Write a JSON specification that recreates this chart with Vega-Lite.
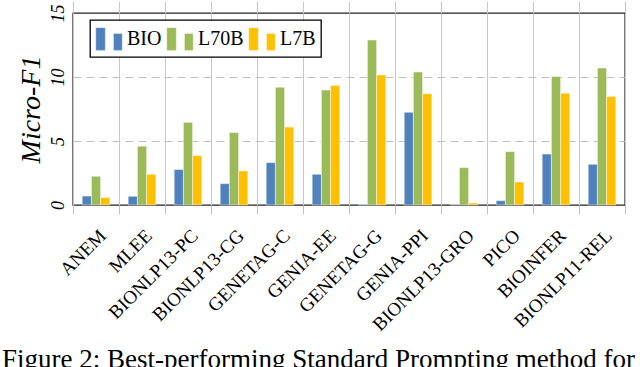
{
  "$schema": "https://vega.github.io/schema/vega-lite/v6.json",
  "width": 552,
  "height": 192,
  "padding": {"left": 2, "top": 0, "right": 0, "bottom": 0},
  "background": "white",
  "title": {
    "text": "Figure 2: Best-performing Standard Prompting method for",
    "orient": "bottom",
    "anchor": "start",
    "frame": "bounds",
    "font": "Liberation Serif",
    "fontSize": 27,
    "fontWeight": "normal",
    "color": "black",
    "dx": -15,
    "offset": 13
  },
  "config": {
    "view": {"stroke": "#222222", "strokeWidth": 1.4},
    "font": "Liberation Serif",
    "axis": {"labelFont": "Liberation Serif", "titleFont": "Liberation Serif"},
    "legend": {"labelFont": "Liberation Serif", "titleFont": "Liberation Serif"},
    "text": {"font": "Liberation Serif"}
  },
  "data": {
    "values": [
      {"dataset": "ANEM", "model": "BIO", "value": 0.70},
      {"dataset": "ANEM", "model": "L70B", "value": 2.24},
      {"dataset": "ANEM", "model": "L7B", "value": 0.58},
      {"dataset": "MLEE", "model": "BIO", "value": 0.68},
      {"dataset": "MLEE", "model": "L70B", "value": 4.59},
      {"dataset": "MLEE", "model": "L7B", "value": 2.40},
      {"dataset": "BIONLP13-PC", "model": "BIO", "value": 2.77},
      {"dataset": "BIONLP13-PC", "model": "L70B", "value": 6.46},
      {"dataset": "BIONLP13-PC", "model": "L7B", "value": 3.86},
      {"dataset": "BIONLP13-CG", "model": "BIO", "value": 1.67},
      {"dataset": "BIONLP13-CG", "model": "L70B", "value": 5.66},
      {"dataset": "BIONLP13-CG", "model": "L7B", "value": 2.66},
      {"dataset": "GENETAG-C", "model": "BIO", "value": 3.31},
      {"dataset": "GENETAG-C", "model": "L70B", "value": 9.20},
      {"dataset": "GENETAG-C", "model": "L7B", "value": 6.09},
      {"dataset": "GENIA-EE", "model": "BIO", "value": 2.40},
      {"dataset": "GENIA-EE", "model": "L70B", "value": 8.98},
      {"dataset": "GENIA-EE", "model": "L7B", "value": 9.33},
      {"dataset": "GENETAG-G", "model": "BIO", "value": 0.03},
      {"dataset": "GENETAG-G", "model": "L70B", "value": 12.89},
      {"dataset": "GENETAG-G", "model": "L7B", "value": 10.16},
      {"dataset": "GENIA-PPI", "model": "BIO", "value": 7.24},
      {"dataset": "GENIA-PPI", "model": "L70B", "value": 10.39},
      {"dataset": "GENIA-PPI", "model": "L7B", "value": 8.70},
      {"dataset": "BIONLP13-GRO", "model": "BIO", "value": 0.05},
      {"dataset": "BIONLP13-GRO", "model": "L70B", "value": 2.92},
      {"dataset": "BIONLP13-GRO", "model": "L7B", "value": 0.16},
      {"dataset": "PICO", "model": "BIO", "value": 0.34},
      {"dataset": "PICO", "model": "L70B", "value": 4.17},
      {"dataset": "PICO", "model": "L7B", "value": 1.80},
      {"dataset": "BIOINFER", "model": "BIO", "value": 3.98},
      {"dataset": "BIOINFER", "model": "L70B", "value": 10.03},
      {"dataset": "BIOINFER", "model": "L7B", "value": 8.73},
      {"dataset": "BIONLP11-REL", "model": "BIO", "value": 3.18},
      {"dataset": "BIONLP11-REL", "model": "L70B", "value": 10.70},
      {"dataset": "BIONLP11-REL", "model": "L7B", "value": 8.47}
    ]
  },
  "layer": [
    {
      "mark": {"type": "bar", "stroke": "white", "strokeOpacity": 0.45, "strokeWidth": 1},
      "encoding": {
        "x": {
          "field": "dataset",
          "type": "nominal",
          "sort": null,
          "scale": {"paddingInner": 0, "paddingOuter": 0},
          "axis": {
            "orient": "bottom",
            "title": null,
            "tickBand": "extent",
            "grid": true,
            "gridColor": "#c8c8c8",
            "gridWidth": 1,
            "ticks": true,
            "tickSize": 9,
            "tickColor": "#c0c0c0",
            "domain": false,
            "labelAngle": -45,
            "labelFont": "Liberation Serif",
            "labelFontSize": 19,
            "labelColor": "black",
            "labelPadding": 12
          }
        },
        "xOffset": {
          "field": "model",
          "type": "nominal",
          "sort": ["BIO", "L70B", "L7B"],
          "scale": {"paddingInner": 0, "paddingOuter": 1.05}
        },
        "y": {
          "field": "value",
          "type": "quantitative",
          "scale": {"domain": [0, 15], "nice": false},
          "axis": {
            "title": "Micro-F1",
            "titleFont": "Liberation Serif",
            "titleFontStyle": "italic",
            "titleFontWeight": "normal",
            "titleFontSize": 28,
            "titleColor": "black",
            "titlePadding": 4,
            "values": [0, 5, 10, 15],
            "grid": true,
            "gridDash": [8, 5],
            "gridColor": "#c0c0c0",
            "gridOpacity": {"condition": {"test": "datum.value === 0 || datum.value === 15", "value": 0}, "value": 1},
            "domain": false,
            "ticks": false,
            "labelAngle": -90,
            "labelFont": "Liberation Serif",
            "labelFontStyle": "italic",
            "labelFontSize": 18,
            "labelColor": "black",
            "labelPadding": 6
          }
        },
        "color": {
          "field": "model",
          "type": "nominal",
          "sort": ["BIO", "L70B", "L7B"],
          "scale": {"domain": ["BIO", "L70B", "L7B"], "range": ["#4f81bd", "#9bbb59", "#ffc000"]},
          "legend": {
            "title": null,
            "orient": "none",
            "legendX": 17,
            "legendY": 7,
            "direction": "horizontal",
            "columns": 3,
            "strokeColor": "black",
            "fillColor": "white",
            "padding": 5,
            "symbolType": "M-1,-0.86H-0.28V0.86H-1Z M0.34,-0.42H1V0.86H0.34Z",
            "symbolSize": 700,
            "symbolStrokeColor": "white",
            "symbolStrokeWidth": 0.8,
            "labelFont": "Liberation Serif",
            "labelFontSize": 20,
            "labelColor": "black",
            "labelOffset": 4,
            "columnPadding": 3,
            "encode": {
              "legend": {"update": {"strokeWidth": {"value": 1.3}}},
              "symbols": {"update": {"strokeOpacity": {"value": 0.45}}}
            }
          }
        }
      }
    },
    {
      "mark": {"type": "rule", "opacity": 0},
      "encoding": {
        "x": {
          "field": "dataset",
          "type": "nominal",
          "sort": null,
          "axis": {
            "orient": "top",
            "title": null,
            "tickBand": "extent",
            "labels": false,
            "domain": false,
            "grid": false,
            "ticks": true,
            "tickSize": 12,
            "tickColor": "#c8c8c8"
          }
        }
      }
    }
  ],
  "resolve": {"axis": {"x": "independent"}}
}
